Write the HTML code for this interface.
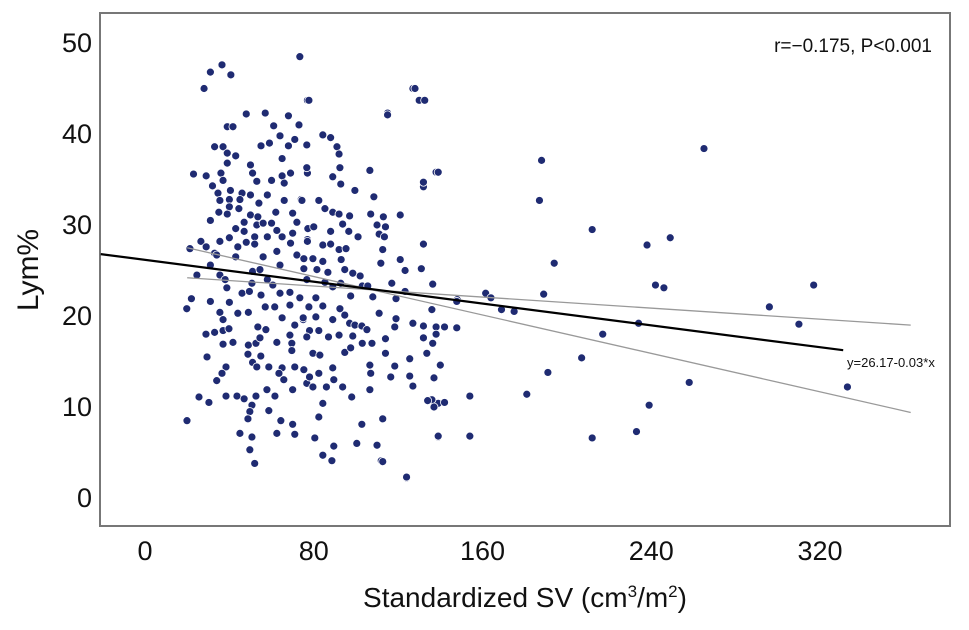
<!DOCTYPE html>
<html><head><meta charset="utf-8"><style>
body{margin:0;background:#fff;}
svg text{font-family:"Liberation Sans",Arial,sans-serif;}
</style></head><body>
<svg id="chart" width="969" height="625" viewBox="0 0 969 625" xmlns="http://www.w3.org/2000/svg">
<rect x="100" y="13" width="850" height="513" fill="#fff" stroke="#777" stroke-width="2"/>
<g id="marks"></g>
<g id="axes"></g>
<text transform="translate(38,270) rotate(-90)" text-anchor="middle" font-size="30" fill="#111">Lym%</text>
<text x="525" y="607" text-anchor="middle" font-size="28" fill="#111">Standardized SV (cm<tspan font-size="17" dy="-10">3</tspan><tspan dy="10">/m</tspan><tspan font-size="17" dy="-10">2</tspan><tspan dy="10">)</tspan></text>
<text x="932" y="52" text-anchor="end" font-size="19" fill="#111">r=−0.175, P&lt;0.001</text>
<text x="847" y="367" font-size="13" fill="#111">y=26.17-0.03*x</text>
</svg>
<script>
const xTicks=[0,80,160,240,320];
const yTicks=[0,10,20,30,40,50];
const fitIntercept=26.17;
const fitSlope=-0.03;
const ciUpperEnds=[24.2,19.0];
const ciLowerEnds=[27.5,9.4];
const ciRange=[20,363];
const fitRange=[-21,331];
const xs=[161.5,164,169,175,189,181,187,188,191,194,207,212,217,212,234,233,239,238,242,246,249,265,258,296,310,317,333,154,154,148,142,139,139,136,138,132,127,130,115,124,112,
73.4,36.5,31,40.7,28,48,57,68,73,61,39,41.7,77,64,71,55,59,68,33,37,39,43,39,65,50,51,23,29,36,37,53,32,40.5,46,34.6,35.5,40,45,50,58,65,60,66,69,77,74,66,54,40,44.5,35,39,50,53.5,62,70,31,47,53,60,72,43,47,56,52,58,62.5,65,70,40,35.5,26.5,44,48,52,69,21.3,29,33,43,62.5,77,
34,43,56,64,72,31,51,54.5,24.6,35.5,38,50.7,58,60.6,38.8,46,49.5,55,64,68.7,73.4,22,19.8,31,40,57,61.5,68.7,35.5,44,49,65,37,75,28.9,33,37,39.8,53.5,57.3,71,37,41.7,49,52.6,54.5,62.5,68.7,69.6,69.6,48.8,54.9,29.4,51,38.4,53,58.7,65,71,36.5,34,63.5,65.8,76.7,38.4,43.6,47,52.6,25.6,30.3,57.8,61.6,70,50.7,49.7,58.7,48.8,19.9,64.4,70,45,62.5,71,50.7,49.7,52,
128,132.6,77.7,115,84.3,88,91,92,76.7,76.7,92.4,89,92.8,106.6,99.5,132,139,74.4,82.4,108.5,85.3,89,92,97,107,113,121,77.2,80,88,93.7,96.6,101,110,114,111,113.5,77,84.3,88,92,95.3,93,132,112.7,111.8,121,123.3,131,75.3,79.6,84.3,75.3,81.5,86.7,94.7,98.5,102,136.4,147.8,117,123.3,76.7,85.3,89,92.8,103,105.6,108,97.5,119,81,84.3,77.7,136,111,92.4,94.7,89,81,75,119,97,99.5,102.8,105.2,127,132,138,138,147.8,118.4,78,82.4,87,92,98.5,114,132,136.4,103,107.6,76.7,94.7,97.5,114,133.6,79.6,82.9,125.5,89,106.6,118.4,140,82.4,107,116.5,125.5,75.3,78,89.5,93.7,86,79.6,127,137,106.6,98,134,137,142,84.3,82.4,102.8,112.7,80.5,89.5,100.4,110,139,84.3,88.6,112.7,124];
const ys=[22.5,22,20.7,20.5,22.4,11.4,32.7,37.1,13.8,25.8,15.4,29.5,18,6.6,19.2,7.3,10.2,27.8,23.4,23.1,28.6,38.4,12.7,21,19.1,23.4,12.2,6.8,11.2,21.8,18.8,6.7,10.4,10.8,35.8,34.2,45,43.7,42.3,2.2,4.1,
48.5,47.6,46.8,46.5,45,42.2,42.3,42,41,40.9,40.8,40.8,43.7,39.8,39.4,38.7,39,38.7,38.6,38.6,37.9,37.6,36.8,37.3,36.6,35.7,35.6,35.4,35.7,34.9,34.8,34.3,33.8,33.5,33.5,32.7,32.8,32.8,33.3,33.3,35.4,34.9,34.6,35.7,35.7,32.8,32.7,32.4,32,31.8,31.4,31.2,31.1,30.9,31.4,31.3,30.5,30.3,30,30.2,30.3,29.6,29.3,30.2,28.7,28.7,29.4,28.7,29.1,28.6,28.2,28.2,27.6,28.1,27.9,28,27.4,27.6,26.9,26.5,27.1,28.4,
26.7,26.5,26.5,25.6,26.7,25.6,24.9,25.1,24.5,24.5,24,23.6,24,23.4,23.1,22.5,22.7,22.3,22.5,22.6,22,21.9,20.8,21.6,21.5,21,21,21.2,20.4,20.3,20.4,19.8,19.6,19.6,18,18.2,18.4,18.6,18.8,18.5,19,16.9,17.1,16.8,17,17.6,17.1,17.9,17,16.2,15.8,15.6,15.5,14.9,14.4,14.4,14.4,14.3,14.4,13.7,12.9,13.7,13,12.6,11.2,11.2,10.9,11.2,11.1,10.5,11.9,11.2,11.9,10.2,9.5,9.6,8.7,8.5,8.5,8.1,7.1,7.1,7,6.7,5.3,3.8,
45,43.7,43.7,42.1,39.9,39.6,38.6,37.8,38.8,36.3,36.3,35.3,34.5,36,33.8,34.7,35.8,32.7,32.7,33.1,31.8,31.4,31.2,31,31.2,30.9,31.1,29.6,29.8,29.3,30.1,29.3,28.7,30,29.8,29,28.7,28.2,27.8,27.9,27.3,27.4,26.2,27.9,27.3,25.8,26.2,25,25.2,26.3,26.3,26,25.2,25.1,24.8,25.1,24.7,24.4,23.5,21.6,23.6,22.7,24,23.7,23.2,23.6,23.3,23.3,22.1,22.2,21.9,22,21.1,21,20.7,20.3,20.8,20.1,19.6,19.9,19.8,19.7,19.2,19,18.9,18.5,19.2,18.9,18.8,18,18.7,18.8,18.4,18.4,17.7,17.9,17.8,17.5,17.6,17,17,17,17.7,16,16.5,15.9,15.9,15.9,15.7,15.3,14.3,14.6,14.5,14.6,13.7,13.7,13.3,13.4,14.1,13.3,13,12.2,12.2,12.2,12.3,13.2,11.9,11.1,10.7,10,10.5,10.4,8.9,8.1,8.7,6.6,5.7,6,5.8,6.8,4.7,4.1,4,2.3];
const NS="http://www.w3.org/2000/svg";
const X0=145,XU=(820-145)/320,Y0=498,YU=(498-43)/50;
function sx(v){return X0+v*XU;}
function sy(v){return Y0-v*YU;}
const marks=document.getElementById('marks'),axes=document.getElementById('axes');
function line(x1,y1,x2,y2,stroke,w,name){
 const l=document.createElementNS(NS,'line');
 l.setAttribute('x1',sx(x1));l.setAttribute('y1',sy(y1));l.setAttribute('x2',sx(x2));l.setAttribute('y2',sy(y2));
 l.setAttribute('stroke',stroke);l.setAttribute('stroke-width',w);
 
 
 marks.appendChild(l);
}
for(let i=0;i<xs.length;i++){
 const c=document.createElementNS(NS,'circle');
 c.setAttribute('cx',sx(xs[i]));c.setAttribute('cy',sy(ys[i]));c.setAttribute('r',4);
 c.setAttribute('fill','#1f2b72');c.setAttribute('stroke','#fff');c.setAttribute('stroke-width',0.8);
 
 
 marks.appendChild(c);
}
line(ciRange[0],ciUpperEnds[0],ciRange[1],ciUpperEnds[1],'#999',1.3,'ci-line-upper');
line(ciRange[0],ciLowerEnds[0],ciRange[1],ciLowerEnds[1],'#999',1.3,'ci-line-lower');
line(fitRange[0],fitIntercept+fitSlope*fitRange[0],fitRange[1],fitIntercept+fitSlope*fitRange[1],'#000',2.2,'regression-line');
xTicks.forEach(t=>{
 const tx=document.createElementNS(NS,'text');
 tx.setAttribute('x',sx(t));tx.setAttribute('y',560);tx.setAttribute('text-anchor','middle');tx.setAttribute('font-size','27');tx.setAttribute('fill','#111');
 tx.textContent=t;
 
 
 axes.appendChild(tx);
});
yTicks.forEach(t=>{
 const tx=document.createElementNS(NS,'text');
 tx.setAttribute('x',92);tx.setAttribute('y',sy(t)+9);tx.setAttribute('text-anchor','end');tx.setAttribute('font-size','27');tx.setAttribute('fill','#111');
 tx.textContent=t;
 
 
 axes.appendChild(tx);
});
</script>
</body></html>
